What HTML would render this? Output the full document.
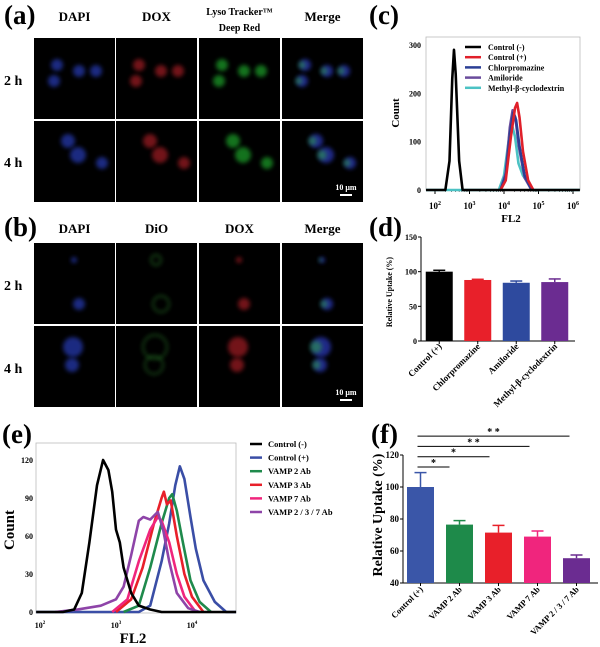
<!DOCTYPE html>
<html><head><meta charset="utf-8"><style>
body{margin:0;background:#fff}
svg{display:block;font-family:"Liberation Serif",serif;font-weight:bold}
</style></head><body>
<svg id="fig" width="600" height="647" viewBox="0 0 600 647" xmlns="http://www.w3.org/2000/svg">
<defs>
<filter id="blur1" x="-50%" y="-50%" width="200%" height="200%"><feGaussianBlur stdDeviation="2"/></filter>
</defs>
<g id="micro"></g>
<g id="pc"></g>
<g id="pd"></g>
<g id="pe"></g>
<g id="pf"></g>
</svg>
<script>
// ---------- Panel c data ----------
const cNames = ["Control (-)","Control (+)","Chlorpromazine","Amiloride","Methyl-β-cyclodextrin"];
const cColors = ["#000000","#e0202a","#2b3f95","#6a4c9c","#4cc2c4"];
const cX0 = [1.74,2.3,2.42,2.5,2.55,2.6,2.7,2.8,6.2];
const cY0 = [0,0,60,230,290,240,60,0,0];
const cX1 = [3.9,4.05,4.2,4.32,4.38,4.45,4.55,4.7,4.85];
const cY1 = [0,20,110,170,180,150,80,20,0];
const cX2 = [3.9,4.05,4.18,4.27,4.35,4.45,4.6,4.8];
const cY2 = [0,30,120,160,145,90,30,0];
const cX3 = [3.9,4.05,4.17,4.25,4.33,4.43,4.6,4.8];
const cY3 = [0,35,130,165,150,90,25,0];
const cX4 = [1.74,3.85,4.0,4.15,4.23,4.32,4.42,4.55,4.7,4.85,6.2];
const cY4 = [0,0,30,110,135,110,55,30,15,0,0];
const cYTicks = [0,100,200,300];
const cXTicks = [2,3,4,5,6];
// ---------- Panel d data ----------
const dCats = ["Control (+)","Chlorpromazine","Amiloride","Methyl-β-cyclodextrin"];
const dVals = [100,88,84,85];
const dErr = [2,1,2.5,4.5];
const dColors = ["#000000","#e8202a","#2e4a9e","#6b2c91"];
const dYTicks = [0,50,100,150];
// ---------- Panel e data ----------
const eNames = ["Control (-)","Control (+)","VAMP 2 Ab","VAMP 3 Ab","VAMP 7 Ab","VAMP 2 / 3 / 7 Ab"];
const eColors = ["#000000","#3a4ea6","#1f8a4c","#e8202a","#f0257d","#8e44a8"];
const eX0 = [1.95,2.3,2.45,2.55,2.65,2.75,2.83,2.9,2.95,3.0,3.05,3.1,3.2,3.3,3.45,3.6,4.58];
const eY0 = [0,0,2,15,55,100,120,112,95,65,55,35,15,5,2,0,0];
const eX1 = [1.95,3.3,3.45,3.6,3.7,3.78,3.84,3.9,3.98,4.05,4.15,4.3,4.45,4.58];
const eY1 = [0,0,5,40,70,100,115,105,75,50,25,8,0,0];
const eX2 = [3.1,3.3,3.45,3.6,3.7,3.74,3.8,3.88,3.98,4.1,4.25];
const eY2 = [0,5,35,70,90,93,80,55,25,8,0];
const eX3 = [3.0,3.2,3.35,3.5,3.6,3.63,3.67,3.72,3.8,3.9,4.0,4.15];
const eY3 = [0,10,35,70,90,95,85,88,60,30,12,0];
const eX4 = [2.95,3.15,3.3,3.45,3.55,3.6,3.7,3.8,3.9,4.05];
const eY4 = [0,10,40,65,75,72,55,30,12,0];
const eX5 = [2.2,2.5,2.8,3.0,3.1,3.2,3.3,3.36,3.45,3.55,3.62,3.7,3.8,3.95,4.1];
const eY5 = [0,2,5,10,20,45,72,75,73,79,65,40,15,3,0];
const eYTicks = [0,30,60,90,120];
const eXTicks = [2,3,4];
// ---------- Panel f data ----------
const fCats = ["Control (+)","VAMP 2 Ab","VAMP 3 Ab","VAMP 7 Ab","VAMP 2 / 3 / 7 Ab"];
const fVals = [100,76.5,71.5,69,55.5];
const fErr = [9,2.5,4.5,3.5,2];
const fColors = ["#3a56a8","#1e8a4a","#e8202a","#f0257d","#6b2c91"];
const fYTicks = [40,60,80,100,120];
const fSigTo = [1,2,3,4];
const fSigLabel = ["*","*","* *","* *"];

const NS="http://www.w3.org/2000/svg";
function mk(parent,tag,attrs,text){const e=document.createElementNS(NS,tag);for(const k in attrs)e.setAttribute(k,attrs[k]);if(text!==undefined)e.textContent=text;parent.appendChild(e);return e;}

// ---------- Microscopy ----------
const micro=document.getElementById('micro');
function label(t,x,y,size,name){const e=mk(micro,'text',{x:x,y:y,'font-size':size});e.textContent=t;

return e;}
label('(a)',4,24,27,'panel-a-label');
label('(b)',4,236,27,'panel-b-label');
label('(c)',369,24,27,'panel-c-label');
label('(d)',369,236,27,'panel-d-label');
label('(e)',2,443,27,'panel-e-label');
label('(f)',371,443,27,'panel-f-label');
const colsX=[34,116,199,282], colW=81;
function header(t,cx,y,size){const e=mk(micro,'text',{x:cx,y:y,'font-size':size,'text-anchor':'middle'});e.textContent=t;

}
['DAPI','DOX',null,'Merge'].forEach((t,i)=>{if(t)header(t,colsX[i]+colW/2,21,13);});
header('Lyso Tracker™',colsX[2]+colW/2,15,10);
header('Deep Red',colsX[2]+colW/2,31,10);
['DAPI','DiO','DOX','Merge'].forEach((t,i)=>header(t,colsX[i]+colW/2,233,13));
function rowlab(t,y){const e=mk(micro,'text',{x:4,y:y,'font-size':14});e.textContent=t;

}
rowlab('2 h',85);rowlab('4 h',167);rowlab('2 h',290);rowlab('4 h',373);
const rowsA=[38,121], rowsB=[243,326], rowH=81;
const cellsA=[[[57,65,6],[54,81,6],[79,71,6],[96,71,6]],[[68,141,7],[78,155,8],[102,163,6]]];
const cellsB=[[[74,260,3],[79,304,6]],[[73,347,10],[72,365,7]]];
const chanA=['#2f47d8','#c0202a','#20c030','mix'];
const chanB=['#2f47d8','dio','#c0202a','mix'];
function drawGrid(rows,cells,chan,tag){
 rows.forEach((ry,r)=>{colsX.forEach((cx,c)=>{
  const p=mk(micro,'rect',{x:cx,y:ry,width:colW,height:rowH,fill:'#000'});
  
  
  cells[r].forEach(([x,y,rad])=>{
   const dx=cx+(x-34), dy=y;
   const ch=chan[c];
   if(ch==='mix'){mk(micro,'circle',{cx:dx,cy:dy,r:rad,fill:'#3040d0',opacity:0.65,filter:'url(#blur1)'});
     mk(micro,'circle',{cx:dx-rad*0.5,cy:dy,r:rad*0.6,fill:'#30c040',opacity:0.45,filter:'url(#blur1)'});}
   else if(ch==='dio'){mk(micro,'circle',{cx:dx,cy:dy,r:rad+2,fill:'none',stroke:'#40c040','stroke-width':1.2,opacity:0.6,filter:'url(#blur1)'});}
   else mk(micro,'circle',{cx:dx,cy:dy,r:rad,fill:ch,opacity:0.6,filter:'url(#blur1)'});
  });
 });});
}
drawGrid(rowsA,cellsA,chanA,'a');
drawGrid(rowsB,cellsB,chanB,'b');
[[194,'a'],[399,'b']].forEach(([y,t])=>{
 const e=mk(micro,'text',{x:346,y:y-4,'font-size':8,fill:'#fff','text-anchor':'middle'},'10 μm');
 
 
 const b=mk(micro,'rect',{x:340,y:y,width:12,height:2,fill:'#fff'});
 
 
});

// ---------- Panel c ----------
const pc=document.getElementById('pc');
const cL=426,cR=580,cT=37,cB=190;
const cx=v=>435+(v-2)*34.5, cy=v=>190-v*145/300;
mk(pc,'rect',{x:cL,y:cT,width:cR-cL,height:cB-cT,fill:'none',stroke:'#bbb','stroke-width':0.8});
mk(pc,'line',{x1:cL,y1:cB,x2:cR,y2:cB,stroke:'#000','stroke-width':1});
cYTicks.forEach(t=>{const e=mk(pc,'text',{x:cL-5,y:cy(t)+3,'font-size':8,'text-anchor':'end'},String(t));
 
 });
cXTicks.forEach(t=>{const e=mk(pc,'text',{x:cx(t),y:209,'font-size':9,'text-anchor':'middle'});
 
 
 mk(e,'tspan',{},'10');mk(e,'tspan',{dy:-4,'font-size':6},String(t));
 mk(pc,'line',{x1:cx(t),y1:cB,x2:cx(t),y2:cB+4,stroke:'#000'});
 for(let k=2;k<10;k++){const lx=cx(t+Math.log10(k));if(lx<cR)mk(pc,'line',{x1:lx,y1:cB,x2:lx,y2:cB+2,stroke:'#000','stroke-width':0.5});}
});
{const e=mk(pc,'text',{x:511,y:222,'font-size':11,'text-anchor':'middle'},'FL2');}
{const e=mk(pc,'text',{x:0,y:0,'font-size':11,'text-anchor':'middle',transform:'translate(399,113) rotate(-90)'},'Count');}
const cSeries=[[cX0,cY0],[cX1,cY1],[cX2,cY2],[cX3,cY3],[cX4,cY4]];
[4,3,2,1,0].forEach(i=>{const [xs,ys]=cSeries[i];
 const p=mk(pc,'polyline',{points:xs.map((x,j)=>cx(x)+','+cy(ys[j])).join(' '),fill:'none',stroke:cColors[i],'stroke-width':2.6,'stroke-linejoin':'round'});
 
 });
cNames.forEach((n,i)=>{const y=47+i*10.2;
 mk(pc,'line',{x1:465,y1:y,x2:481,y2:y,stroke:cColors[i],'stroke-width':2.5});
 const t=mk(pc,'text',{x:488,y:y+3,'font-size':8},n);
 
 });

// ---------- Panel d ----------
const pd=document.getElementById('pd');
const dL=421,dR=575,dB=341;
const dy=v=>341-v*104/150;
const dBand=(dR-dL)/4, dW=27;
mk(pd,'line',{x1:dL,y1:dy(150),x2:dL,y2:dB,stroke:'#000','stroke-width':1});
mk(pd,'line',{x1:dL,y1:dB,x2:dR,y2:dB,stroke:'#000','stroke-width':1});
dYTicks.forEach(t=>{mk(pd,'line',{x1:dL-3,y1:dy(t),x2:dL,y2:dy(t),stroke:'#000'});
 const e=mk(pd,'text',{x:dL-4,y:dy(t)+3,'font-size':8,'text-anchor':'end'},String(t));
 
 });
dCats.forEach((c,i)=>{const xc=dL+dBand*(i+0.5)-1;
 const b=mk(pd,'rect',{x:xc-dW/2,y:dy(dVals[i]),width:dW,height:dB-dy(dVals[i]),fill:dColors[i]});
 
 
 const top=dy(dVals[i]+dErr[i]);
 mk(pd,'line',{x1:xc,y1:dy(dVals[i]),x2:xc,y2:top,stroke:dColors[i],'stroke-width':1.5});
 mk(pd,'line',{x1:xc-6,y1:top,x2:xc+6,y2:top,stroke:dColors[i],'stroke-width':1.5});
 mk(pd,'line',{x1:xc,y1:dB,x2:xc,y2:dB+3,stroke:'#000'});
 const t=mk(pd,'text',{x:0,y:0,'font-size':9,'text-anchor':'end',transform:`translate(${xc+3},${dB+6}) rotate(-45)`},c);
 
 });
{const e=mk(pd,'text',{x:0,y:0,'font-size':8,'text-anchor':'middle',transform:'translate(392,292) rotate(-90)'},'Relative Uptake (%)');}

// ---------- Panel e ----------
const pe=document.getElementById('pe');
const eL=36,eR=236,eT=443,eB=613;
const ex=v=>116+(v-3)*76, ey=v=>612-v*152/120;
mk(pe,'rect',{x:eL,y:eT,width:eR-eL,height:eB-eT,fill:'none',stroke:'#bbb','stroke-width':0.8});
eYTicks.forEach(t=>{const e=mk(pe,'text',{x:eL-3,y:ey(t)+3,'font-size':8,'text-anchor':'end'},String(t));
 
 });
eXTicks.forEach(t=>{const e=mk(pe,'text',{x:ex(t),y:628,'font-size':8,'text-anchor':'middle'});
 
 
 mk(e,'tspan',{},'10');mk(e,'tspan',{dy:-4,'font-size':5},String(t));});
{const e=mk(pe,'text',{x:133,y:643,'font-size':15,'text-anchor':'middle'},'FL2');}
{const e=mk(pe,'text',{x:0,y:0,'font-size':15,'text-anchor':'middle',transform:'translate(14,530) rotate(-90)'},'Count');}
const eSeries=[[eX0,eY0],[eX1,eY1],[eX2,eY2],[eX3,eY3],[eX4,eY4],[eX5,eY5]];
[1,2,3,4,5,0].forEach(i=>{const [xs,ys]=eSeries[i];
 const p=mk(pe,'polyline',{points:xs.map((x,j)=>ex(x)+','+ey(ys[j])).join(' '),fill:'none',stroke:eColors[i],'stroke-width':2.6,'stroke-linejoin':'round'});
 
 });
eNames.forEach((n,i)=>{const y=444+i*13.6;
 mk(pe,'line',{x1:250,y1:y,x2:262,y2:y,stroke:eColors[i],'stroke-width':2.5});
 const t=mk(pe,'text',{x:268,y:y+3,'font-size':8.5},n);
 
 });

// ---------- Panel f ----------
const pf=document.getElementById('pf');
const fL=403,fR=598,fB=583;
const fy=v=>583-(v-40)*128/80;
const fBand=(fR-fL)/5, fW=27;
const fxc=i=>fL+fBand*(i+0.5)-2;
mk(pf,'line',{x1:fL,y1:fy(120),x2:fL,y2:fB,stroke:'#000','stroke-width':1});
mk(pf,'line',{x1:fL,y1:fB,x2:fR,y2:fB,stroke:'#000','stroke-width':1});
fYTicks.forEach(t=>{mk(pf,'line',{x1:fL-3,y1:fy(t),x2:fL,y2:fy(t),stroke:'#000'});
 const e=mk(pf,'text',{x:fL-4,y:fy(t)+3,'font-size':9,'text-anchor':'end'},String(t));
 
 });
fCats.forEach((c,i)=>{const xc=fxc(i);
 const b=mk(pf,'rect',{x:xc-fW/2,y:fy(fVals[i]),width:fW,height:fB-fy(fVals[i]),fill:fColors[i]});
 
 
 const top=fy(fVals[i]+fErr[i]);
 mk(pf,'line',{x1:xc,y1:fy(fVals[i]),x2:xc,y2:top,stroke:fColors[i],'stroke-width':1.5});
 mk(pf,'line',{x1:xc-6,y1:top,x2:xc+6,y2:top,stroke:fColors[i],'stroke-width':1.5});
 mk(pf,'line',{x1:xc,y1:fB,x2:xc,y2:fB+3,stroke:'#000'});
 const t=mk(pf,'text',{x:0,y:0,'font-size':8.5,'text-anchor':'end',transform:`translate(${xc+3},${fB+7}) rotate(-45)`},c);
 
 });
fSigTo.forEach((to,k)=>{const y=467-k*10.3;const x1=fxc(0)-3,x2=fxc(to)-10+k*1;
 mk(pf,'line',{x1:x1,y1:y,x2:x2,y2:y,stroke:'#000','stroke-width':1});
 const t=mk(pf,'text',{x:(x1+x2)/2,y:y-1,'font-size':10,'text-anchor':'middle'},fSigLabel[k]);
 
 });
{const e=mk(pf,'text',{x:0,y:0,'font-size':14,'text-anchor':'middle',transform:'translate(382,515) rotate(-90)'},'Relative Uptake (%)');}
</script>
</body></html>
